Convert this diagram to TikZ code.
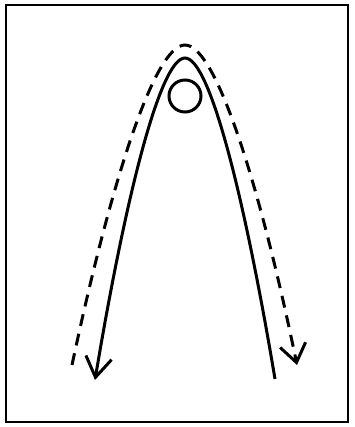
\documentclass[tikz,border=0pt]{standalone}
\usetikzlibrary{arrows.meta}
\begin{document}
\begin{tikzpicture}[x = 1pt,y = -1pt]
\useasboundingbox (0,0) rectangle (354,427);
\draw [line width = 1.5pt] (6,5) rectangle (348,422);
\coordinate (solidstart) at (95,380);
\coordinate (solidtop) at (185,58);
\coordinate (solidend) at (275,379);
\coordinate (dashstart) at (72,365);
\coordinate (dashtop) at (185,45);
\coordinate (dashend) at (297,365);
\draw [line width = 3pt, {Straight Barb[length = 20pt, width = 26pt]}-] (solidstart) .. controls (125,200) and (160,58) .. (solidtop) .. controls (210,58) and (245,200) .. (solidend);
\draw [line width = 3pt, dash pattern = on 12pt off 8pt, -{Straight Barb[length = 18pt, width = 26pt]}] (dashstart) .. controls (110,186) and (154,45) .. (dashtop) .. controls (216,45) and (260,186) .. (dashend);
\node (ball) [draw, circle, line width = 3pt, minimum size = 32pt, inner sep = 0pt] at (185,96) {};
\end{tikzpicture}
\end{document}
